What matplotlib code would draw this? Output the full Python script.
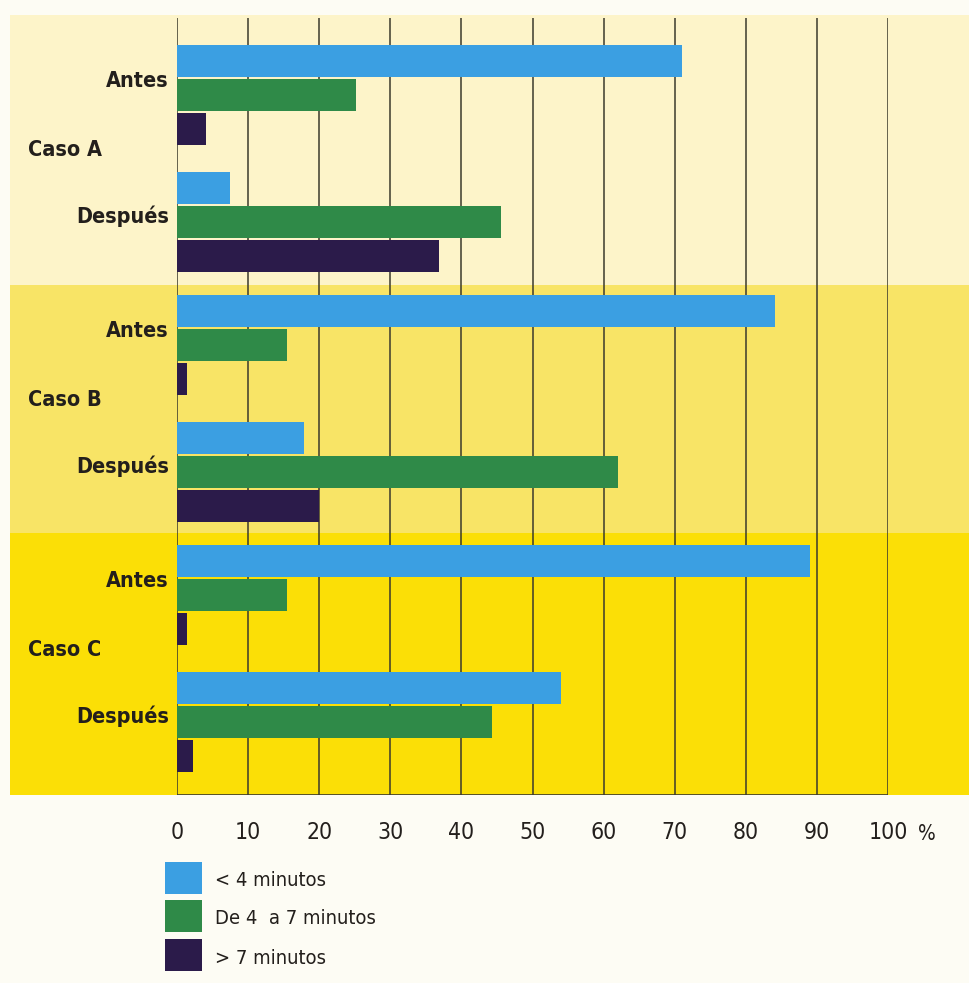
import matplotlib
matplotlib.use("Agg")
import matplotlib.pyplot as plt
from matplotlib.patches import Rectangle
from matplotlib.transforms import blended_transform_factory

# ---- data -------------------------------------------------------------
cases = ["Caso A", "Caso B", "Caso C"]
periods = ["Antes", "Después"]
series_names = ["< 4 minutos", "De 4  a 7 minutos", "> 7 minutos"]

# percentage of cases per time bucket, [case][period]
menos_4 = [[71.0, 7.5], [84.1, 17.9], [89.0, 54.0]]
de_4_a_7 = [[25.2, 45.6], [15.5, 62.0], [15.5, 44.3]]
mas_7 = [[4.1, 36.9], [1.4, 20.0], [1.4, 2.2]]

xticks = [0, 10, 20, 30, 40, 50, 60, 70, 80, 90, 100]
xtick_labels = [str(t) for t in xticks]

# ---- style ------------------------------------------------------------
colors = ["#3b9fe2", "#2f8a48", "#2b1b4a"]
band_colors = ["#fdf4c9", "#f8e466", "#fbdf06"]
page_color = "#fdfcf4"
grid_color = "#3b3a2c"
text_color = "#231f1c"
cond = dict(family="DejaVu Sans", stretch="condensed")

W, H = 970, 983
fig = plt.figure(figsize=(W / 100, H / 100), dpi=100, facecolor=page_color)

# axes laid out in pixel units (y measured from the top edge)
ax_left, ax_right, ax_top, ax_bottom = 177, 888, 15, 795
ax = fig.add_axes([ax_left / W, 1 - ax_bottom / H,
                   (ax_right - ax_left) / W, (ax_bottom - ax_top) / H])
ax.set_facecolor("none")
ax.set_xlim(0, 100)
ax.set_ylim(ax_bottom, ax_top)

# background bands, one per case
band_edges = [15, 285, 533, 795]
for i, c in enumerate(band_colors):
    fig.patches.append(Rectangle((10 / W, 1 - band_edges[i + 1] / H),
                                 (W - 10) / W,
                                 (band_edges[i + 1] - band_edges[i]) / H,
                                 transform=fig.transFigure, facecolor=c,
                                 edgecolor="none", zorder=-10))

# gridlines and baseline
ax.vlines(xticks, ax_top + 3, ax_bottom, color=grid_color, lw=1.1, zorder=1)
ax.hlines(ax_bottom - 0.5, 0, 100, color=grid_color, lw=1.2, zorder=1)

# bar geometry (pixels)
case_step, period_step = 250, 127
first_center = 95
bar_pitch, bar_h = 34, 32

series = [menos_4, de_4_a_7, mas_7]
ytick_pos, ytick_lab = [], []
to_fig_x = blended_transform_factory(fig.transFigure, ax.transData)
for ci in range(len(cases)):
    for pi in range(len(periods)):
        center = first_center + ci * case_step + pi * period_step
        for si, vals in enumerate(series):
            y = center + (si - 1) * bar_pitch
            ax.barh(y, vals[ci][pi], height=bar_h, color=colors[si],
                    edgecolor="none", zorder=2)
        ytick_pos.append(center - (16 if pi == 0 else 8))
        ytick_lab.append(periods[pi])
    case_center = first_center + ci * case_step + period_step / 2 - 8
    ax.text(28 / W, case_center, cases[ci], transform=to_fig_x,
            ha="left", va="center", fontsize=15.5, fontweight="bold",
            color=text_color, **cond)

ax.set_yticks(ytick_pos)
ax.set_yticklabels(ytick_lab, fontsize=15.5, fontweight="bold",
                   color=text_color, **cond)
ax.set_xticks(xticks)
ax.set_xticklabels(xtick_labels, fontsize=16.5, color=text_color, **cond)
ax.tick_params(axis="x", length=0, pad=19)
ax.tick_params(axis="y", length=0, pad=6)
for s in ax.spines.values():
    s.set_visible(False)

ax.text(105.4, 834, "%", ha="center", va="center", fontsize=15,
        color=text_color, clip_on=False, **cond)

# legend
leg_x, leg_w, leg_h = 165, 37, 32
leg_tops = [862, 900, 939]
for c, name, top in zip(colors, series_names, leg_tops):
    fig.patches.append(Rectangle((leg_x / W, 1 - (top + leg_h) / H),
                                 leg_w / W, leg_h / H,
                                 transform=fig.transFigure, facecolor=c,
                                 edgecolor="none"))
    fig.text(215 / W, 1 - (top + leg_h / 2 + 3) / H, name, ha="left",
             va="center", fontsize=14.5, color=text_color, **cond)

fig.savefig("out.png", dpi=100, facecolor=page_color)
